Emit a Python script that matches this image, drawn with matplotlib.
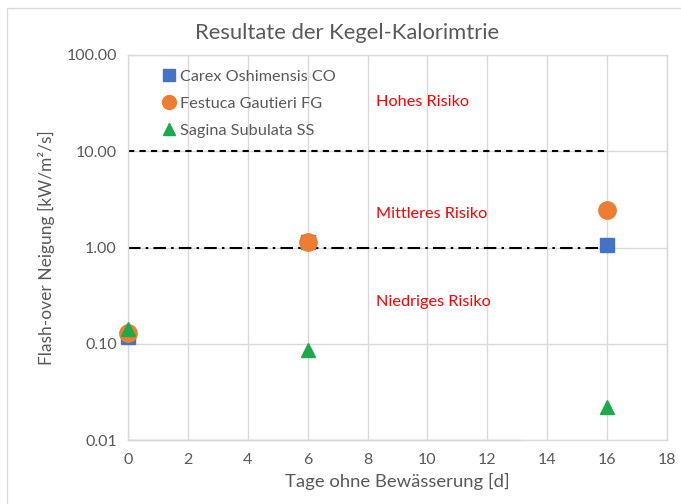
import matplotlib
matplotlib.use("Agg")
import matplotlib.pyplot as plt
from matplotlib.ticker import FixedLocator, FuncFormatter, NullLocator
from matplotlib.patches import Rectangle

plt.rcParams['font.family'] = ['Lato', 'DejaVu Sans']

# ---- data ----
days = [0, 6, 16]
co_values = [0.118, 1.15, 1.07]
fg_values = [0.13, 1.13, 2.48]
ss_values = [0.143, 0.087, 0.022]
series_labels = ["Carex Oshimensis CO", "Festuca Gautieri FG", "Sagina Subulata SS"]
limit_x = [0, 16]
high_limit = [10, 10]
mid_limit = [1, 1]
zone_labels = ["Hohes Risiko", "Mittleres Risiko", "Niedriges Risiko"]
zone_y = [32.5, 2.25, 0.27]
zone_x = 8.27
x_ticks = [0, 2, 4, 6, 8, 10, 12, 14, 16, 18]
y_ticks = [0.01, 0.1, 1, 10, 100]
title = "Resultate der Kegel-Kalorimtrie"
xlabel = "Tage ohne Bewässerung [d]"
ylabel = "Flash-over Neigung [kW/m²/s]"

grey_text = "#595959"
grid_col = "#D9D9D9"

fig = plt.figure(figsize=(6.81, 5.04), dpi=100)
fig.patches.append(Rectangle((7/681, -0.1), 1.2, 1 - 8/504 + 0.1,
                             transform=fig.transFigure, fill=False,
                             edgecolor="#D9D9D9", linewidth=1.0))
ax = fig.add_axes([128/681, 1 - 440/504, (667-128)/681, (440-55)/504])

ax.set_yscale('log')
ax.set_xlim(0, 18)
ax.set_ylim(0.01, 100)

ax.xaxis.set_major_locator(FixedLocator(x_ticks))
ax.yaxis.set_major_locator(FixedLocator(y_ticks))
ax.yaxis.set_minor_locator(NullLocator())
ax.yaxis.set_major_formatter(FuncFormatter(lambda v, p: f"{v:.2f}"))

ax.grid(True, color=grid_col, linewidth=1.0, zorder=0)
for s in ax.spines.values():
    s.set_color(grid_col)
    s.set_linewidth(1.0)
ax.tick_params(length=0, colors=grey_text, labelsize=11.5, pad=9)
ax.tick_params(axis='y', pad=8)

# darker segment of the bottom border seen in the reference
ax.plot([0, 13.1 / 18], [0, 0], transform=ax.transAxes, color="#BFBFBF",
        linewidth=1.0, clip_on=False, zorder=1)

ax.plot(limit_x, high_limit, color='black', linestyle=(0, (3, 2.5)), linewidth=1.5, zorder=2)
ax.plot(limit_x, mid_limit, color='black', linestyle=(0, (6, 2.5, 1.2, 2.5)), linewidth=1.5, zorder=2)

ax.plot(days, co_values, linestyle='none', marker='s', markersize=10,
        color='#4472C4', label=series_labels[0], zorder=3, clip_on=False)
ax.plot(days, fg_values, linestyle='none', marker='o', markersize=12.5,
        color='#ED7D31', label=series_labels[1], zorder=4, clip_on=False)
ax.plot(days, ss_values, linestyle='none', marker='^', markersize=10,
        color='#1AAB4B', label=series_labels[2], zorder=5, clip_on=False)

for lab, yv in zip(zone_labels, zone_y):
    ax.text(zone_x, yv, lab, color='#FF0000', fontsize=11.7, va='center', ha='left')

leg = ax.legend(loc='upper left', bbox_to_anchor=(0.033, 1.0), frameon=False,
                fontsize=11.7, handletextpad=0.2, labelspacing=0.78,
                handlelength=1.0, markerscale=0.8)
for t in leg.get_texts():
    t.set_color(grey_text)

fig.text(347/681, 1 - 33/504, title, ha='center', va='center',
         fontsize=15.8, color=grey_text)
ax.set_xlabel(xlabel, fontsize=13.3, color=grey_text, labelpad=5)
ax.set_ylabel(ylabel, fontsize=12.5, color=grey_text, labelpad=8)

fig.savefig("out.png", dpi=100)
